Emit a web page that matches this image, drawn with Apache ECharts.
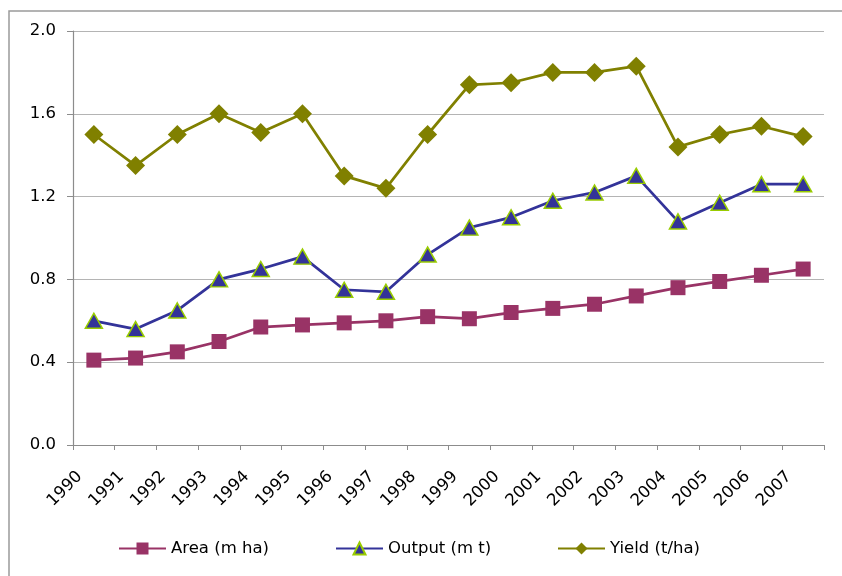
<!DOCTYPE html>
<html><head><meta charset="utf-8">
<script src="https://cdn.jsdelivr.net/npm/echarts@6/dist/echarts.min.js"></script>
<style>html,body{margin:0;padding:0;background:#fff}#c{width:842px;height:576px}</style>
</head><body><div id="c"></div>
<script>
const years = ['1990','1991','1992','1993','1994','1995','1996','1997','1998','1999','2000','2001','2002','2003','2004','2005','2006','2007'];
const area   = [0.41,0.42,0.45,0.50,0.57,0.58,0.59,0.60,0.62,0.61,0.64,0.66,0.68,0.72,0.76,0.79,0.82,0.85];
const output = [0.60,0.56,0.65,0.80,0.85,0.91,0.75,0.74,0.92,1.05,1.10,1.18,1.22,1.30,1.08,1.17,1.26,1.26];
const yieldV = [1.50,1.35,1.50,1.60,1.51,1.60,1.30,1.24,1.50,1.74,1.75,1.80,1.80,1.83,1.44,1.50,1.54,1.49];
const yTicks = {min:0, max:2.0, interval:0.4};

const FONT = 'DejaVu Sans';
const chart = echarts.init(document.getElementById('c'), null, {renderer:'canvas'});
const legendBase = {top: 540, padding: 0, itemWidth: 47, itemHeight: 15, textStyle:{fontFamily:FONT, fontSize:16.5, color:'#000'}, itemGap: 4};
chart.setOption({
  animation:false,
  textStyle:{fontFamily:FONT},
  graphic:[{type:'rect', shape:{x:9, y:11, width:850, height:580}, style:{fill:'none', stroke:'#9a9a9a', lineWidth:1.5}, silent:true}],
  grid:{left:73, right:18, top:31, bottom:131},
  legend:[
    Object.assign({}, legendBase, {left:118, data:['Area (m ha)']}),
    Object.assign({}, legendBase, {left:335, data:['Output (m t)']}),
    Object.assign({}, legendBase, {left:557, data:['Yield (t/ha)']})
  ],
  xAxis:{type:'category', data:years, boundaryGap:true,
    axisLine:{lineStyle:{color:'#8c8c8c', width:1.2}},
    axisTick:{show:true, length:5, lineStyle:{color:'#8c8c8c'}},
    axisLabel:{rotate:45, margin:15, padding:[0,20,0,0], fontSize:16.5, color:'#000', fontFamily:FONT, interval:0}},
  yAxis:{type:'value', min:yTicks.min, max:yTicks.max, interval:yTicks.interval,
    axisLine:{show:true, lineStyle:{color:'#8c8c8c', width:1.2}},
    axisTick:{show:true, length:6, lineStyle:{color:'#8c8c8c'}},
    axisLabel:{formatter:v=>v.toFixed(1), fontSize:16.5, color:'#000', margin:17, fontFamily:FONT},
    splitLine:{lineStyle:{color:'#b4b4b4', width:1.2}}},
  series:[
    {name:'Area (m ha)', type:'line', data:area, symbol:'rect', symbolSize:15,
      lineStyle:{color:'#993366', width:2.75}, itemStyle:{color:'#993366'}},
    {name:'Output (m t)', type:'line', data:output, symbol:'triangle', symbolSize:[17,15],
      lineStyle:{color:'#333399', width:2.75}, itemStyle:{color:'#333399', borderColor:'#99cc00', borderWidth:1.5}},
    {name:'Yield (t/ha)', type:'line', data:yieldV, symbol:'diamond', symbolSize:19,
      lineStyle:{color:'#808000', width:2.75}, itemStyle:{color:'#808000'}}
  ]
});
</script></body></html>
